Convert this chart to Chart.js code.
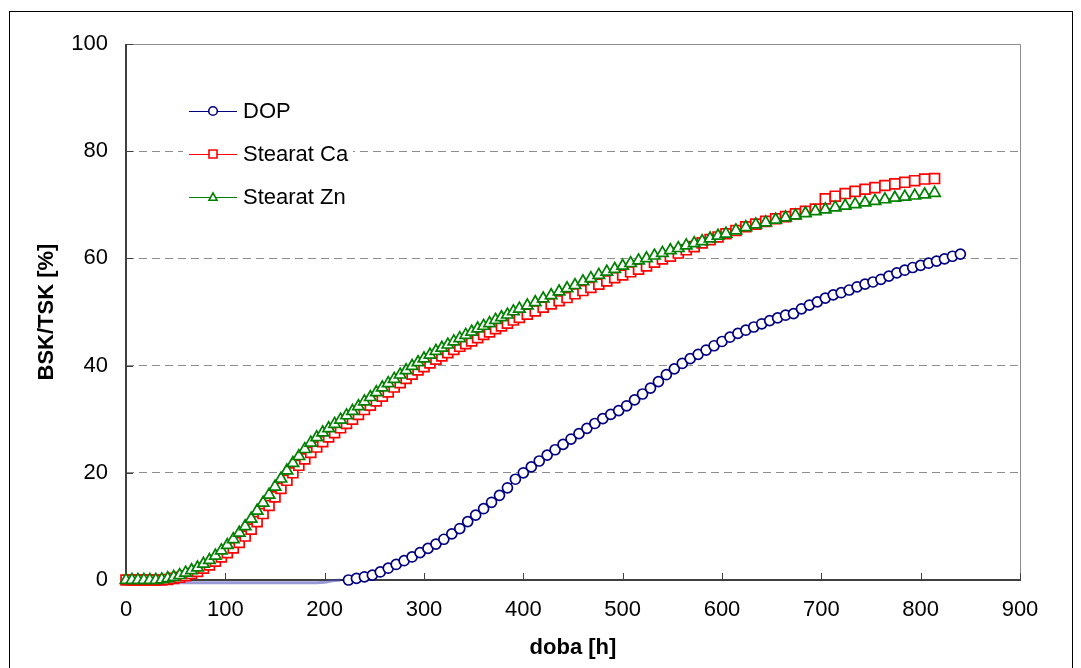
<!DOCTYPE html>
<html>
<head>
<meta charset="utf-8">
<script src="https://cdn.jsdelivr.net/npm/chart.js@4.4.0/dist/chart.umd.min.js"></script>
<style>
  html, body { margin: 0; padding: 0; background: #fff; }
  #wrap { width: 1081px; height: 668px; }
</style>
</head>
<body>
<div id="wrap"><canvas id="graph" width="1081" height="668"></canvas></div>
<script>
// series names and axis ticks
const seriesNames = ["DOP", "Stearat Ca", "Stearat Zn"];
const xTicks = [0, 100, 200, 300, 400, 500, 600, 700, 800, 900];
const yTicks = [0, 20, 40, 60, 80, 100];

// stearat samples (h) - denser early on, sparser later
const stearatTime = [0, 6, 12, 18, 24, 30, 36, 42, 48, 54,
  60, 66, 72, 78, 84, 90, 96, 102, 108, 114,
  120, 126, 132, 138, 144, 150, 156, 162, 168, 174,
  180, 186, 192, 198, 204, 210, 216, 222, 228, 234,
  240, 246, 252, 258, 264, 270, 276, 282, 288, 294,
  300, 306, 312, 318, 324, 330, 336, 342, 348, 354,
  360, 366, 372, 378, 384, 390, 396,
  404, 412, 420, 428, 436, 444, 452, 460, 468, 476,
  484, 492, 500, 508, 516, 524, 532, 540, 548, 556,
  564, 572, 580, 588, 596, 604,
  614, 624, 634, 644, 654, 664, 674, 684, 694, 704,
  714, 724, 734, 744, 754, 764, 774, 784, 794, 804,
  814];
const stearatCa = [0, 0, 0, 0, 0, 0, 0, 0.1, 0.3, 0.5,
  0.8, 1.2, 1.6, 2.2, 2.8, 3.5, 4.3, 5.1, 6.0, 7.0,
  8.2, 9.5, 10.9, 12.4, 13.9, 15.5, 17.1, 18.6, 20.0, 21.4,
  22.6, 23.8, 24.8, 25.8, 26.7, 27.5, 28.4, 29.2, 30.0, 30.9,
  31.8, 32.6, 33.4, 34.3, 35.1, 36.0, 36.8, 37.6, 38.4, 39.2,
  39.8, 40.5, 41.2, 41.8, 42.4, 43.0, 43.6, 44.1, 44.6, 45.2,
  45.8, 46.3, 46.9, 47.4, 47.9, 48.5, 49.0,
  49.6, 50.2, 50.9, 51.5, 52.1, 52.7, 53.4, 54.0, 54.6, 55.2,
  55.8, 56.4, 56.9, 57.5, 58.0, 58.6, 59.3, 59.9, 60.4, 61.0,
  61.6, 62.2, 62.9, 63.5, 64.0, 64.6,
  65.2, 65.9, 66.4, 66.9, 67.4, 67.8, 68.3, 68.8, 69.2, 71.1,
  71.6, 72.1, 72.5, 72.9, 73.2, 73.6, 73.9, 74.2, 74.5, 74.8,
  74.9];
const stearatZn = [0, 0, 0, 0, 0, 0, 0.1, 0.3, 0.55, 0.9,
  1.35, 1.8, 2.3, 3.0, 3.7, 4.5, 5.5, 6.5, 7.6, 8.8,
  10.0, 11.4, 12.9, 14.4, 15.9, 17.4, 18.9, 20.4, 21.8, 23.1,
  24.4, 25.6, 26.6, 27.5, 28.3, 29.1, 29.9, 30.7, 31.5, 32.4,
  33.3, 34.1, 35.0, 35.9, 36.7, 37.5, 38.3, 39.1, 39.9, 40.6,
  41.3, 42.0, 42.7, 43.3, 43.9, 44.5, 45.1, 45.7, 46.3, 46.9,
  47.4, 47.9, 48.5, 49.0, 49.5, 50.1, 50.6,
  51.2, 51.8, 52.5, 53.1, 53.8, 54.4, 55.0, 55.7, 56.3, 56.9,
  57.5, 58.0, 58.6, 59.1, 59.6, 60.0, 60.5, 61.0, 61.5, 61.9,
  62.4, 62.8, 63.2, 63.7, 64.2, 64.6,
  65.2, 65.8, 66.3, 66.7, 67.2, 67.6, 68.0, 68.4, 68.8, 69.1,
  69.5, 69.8, 70.1, 70.4, 70.7, 71.0, 71.3, 71.5, 71.7, 71.9,
  72.2];

// DOP samples (h)
const dopTime = [0, 8, 16, 24, 32, 40, 48, 56, 64, 72,
  80, 88, 96, 104, 112, 120, 128, 136, 144, 152,
  160, 168, 176, 184, 192, 200, 208, 216,
  224, 232, 240, 248, 256, 264, 272, 280, 288, 296,
  304, 312, 320, 328, 336, 344, 352, 360, 368, 376,
  384, 392, 400, 408, 416, 424, 432, 440, 448, 456,
  464, 472, 480, 488, 496, 504, 512, 520, 528, 536,
  544, 552, 560, 568, 576, 584, 592, 600, 608, 616,
  624, 632, 640, 648, 656, 664, 672, 680, 688, 696,
  704, 712, 720, 728, 736, 744, 752, 760, 768, 776,
  784, 792, 800, 808, 816, 824, 832, 840];
const dopValues = [-0.5, -0.5, -0.5, -0.5, -0.5, -0.5, -0.5, -0.5, -0.5, -0.5,
  -0.5, -0.5, -0.5, -0.5, -0.5, -0.5, -0.5, -0.5, -0.5, -0.5,
  -0.5, -0.5, -0.5, -0.5, -0.5, -0.4, -0.15, 0,
  0.0, 0.3, 0.6, 0.9, 1.5, 2.2, 2.9, 3.6, 4.3, 5.1,
  5.9, 6.7, 7.6, 8.6, 9.6, 10.9, 12.1, 13.3, 14.5, 15.8,
  17.2, 18.8, 20.0, 21.1, 22.2, 23.3, 24.3, 25.3, 26.3, 27.3,
  28.3, 29.2, 30.1, 30.9, 31.6, 32.5, 33.6, 34.7, 35.8, 37.0,
  38.3, 39.4, 40.4, 41.3, 42.1, 42.9, 43.7, 44.5, 45.3, 46.0,
  46.6, 47.2, 47.8, 48.4, 48.9, 49.4, 49.7, 50.6, 51.3, 51.9,
  52.6, 53.2, 53.6, 54.1, 54.7, 55.2, 55.6, 56.1, 56.7, 57.3,
  57.8, 58.3, 58.7, 59.1, 59.5, 59.9, 60.4, 60.8];

const FONT = '"Liberation Sans", Arial, sans-serif';
const colors = ["#000080", "#ff0000", "#008000"];
const styles = ["circle", "rect", "triangle"];

function pairs(xs, ys) {
  return xs.map((t, i) => ({ x: t, y: ys[i] }));
}

function drawMarker(ctx, style, x, y, r) {
  ctx.beginPath();
  if (style === "circle") {
    ctx.arc(x, y, r, 0, Math.PI * 2);
  } else if (style === "rect") {
    ctx.rect(x - r, y - r, r * 2, r * 2);
  } else {
    ctx.moveTo(x, y - r);
    ctx.lineTo(x + r, y + r * 0.8);
    ctx.lineTo(x - r, y + r * 0.8);
    ctx.closePath();
  }
  ctx.fill();
  ctx.stroke();
}

const frame = {
  id: "frame",
  beforeDraw(chart) {
    const ctx = chart.ctx;
    ctx.save();
    ctx.fillStyle = "#fff";
    ctx.fillRect(0, 0, chart.width, chart.height);
    ctx.strokeStyle = "#000";
    ctx.lineWidth = 1;
    ctx.strokeRect(9.5, 11.5, 1063, 700);
    ctx.restore();
  },
  beforeDatasetsDraw(chart) {
    const { ctx, chartArea: a, scales } = chart;
    ctx.save();
    ctx.strokeStyle = "#8c8c8c";
    ctx.lineWidth = 1;
    ctx.beginPath();
    ctx.moveTo(a.left, a.top + 0.5);
    ctx.lineTo(a.right + 0.5, a.top + 0.5);
    ctx.lineTo(a.right + 0.5, a.bottom);
    ctx.stroke();
    ctx.strokeStyle = "#404040";
    ctx.lineWidth = 2;
    ctx.beginPath();
    ctx.moveTo(a.left, a.top);
    ctx.lineTo(a.left, a.bottom);
    ctx.lineTo(a.right + 1, a.bottom);
    ctx.stroke();
    ctx.lineWidth = 1;
    scales.x.ticks.forEach(t => {
      const px = Math.round(scales.x.getPixelForValue(t.value)) + 0.5;
      ctx.beginPath();
      ctx.moveTo(px, a.bottom);
      ctx.lineTo(px, a.bottom - 7);
      ctx.stroke();
    });
    scales.y.ticks.forEach(t => {
      const py = Math.round(scales.y.getPixelForValue(t.value)) + 0.5;
      ctx.beginPath();
      ctx.moveTo(a.left, py);
      ctx.lineTo(a.left + 7, py);
      ctx.stroke();
    });
    ctx.restore();
  },
  afterDraw(chart) {
    // legend inside the plot, upper left
    const ctx = chart.ctx;
    ctx.save();
    ctx.fillStyle = "#fff";
    ctx.fillRect(183, 92, 170, 122);
    const rows = [111, 154, 197];
    seriesNames.forEach((name, i) => {
      const y = rows[i];
      ctx.strokeStyle = colors[i];
      ctx.lineWidth = 1;
      ctx.beginPath();
      ctx.moveTo(189, y + 0.5);
      ctx.lineTo(237, y + 0.5);
      ctx.stroke();
      ctx.fillStyle = "#fff";
      ctx.lineWidth = 1.6;
      drawMarker(ctx, styles[i], 213, y, i === 0 ? 4.3 : 4);
      ctx.fillStyle = "#000";
      ctx.font = "22px " + FONT;
      ctx.textBaseline = "middle";
      ctx.textAlign = "left";
      ctx.fillText(name, 243, y + 1);
    });
    ctx.restore();
  }
};

const dopPast = c => c.p1.parsed.x <= 216;

new Chart(document.getElementById("graph"), {
  type: "line",
  data: {
    datasets: [
      {
        label: seriesNames[0],
        data: pairs(dopTime, dopValues),
        borderColor: colors[0],
        borderWidth: 1,
        pointStyle: "circle",
        pointRadius: c => (c.raw && c.raw.x < 220 ? 0 : 5),
        pointBorderWidth: 1.7,
        pointBackgroundColor: "#fff",
        pointBorderColor: colors[0],
        segment: {
          borderColor: c => (dopPast(c) ? "rgba(70,70,180,0.55)" : undefined),
          borderWidth: c => (dopPast(c) ? 3 : undefined)
        },
        clip: false,
        order: 2
      },
      {
        label: seriesNames[1],
        data: pairs(stearatTime, stearatCa),
        borderColor: colors[1],
        borderWidth: 1,
        pointStyle: "rect",
        pointRadius: 7,
        pointBorderWidth: 1.7,
        pointBackgroundColor: "#fff",
        pointBorderColor: colors[1],
        clip: false,
        order: 1
      },
      {
        label: seriesNames[2],
        data: pairs(stearatTime, stearatZn),
        borderColor: colors[2],
        borderWidth: 1,
        pointStyle: "triangle",
        pointRadius: 6.6,
        pointBorderWidth: 1.7,
        pointBackgroundColor: "#fff",
        pointBorderColor: colors[2],
        clip: false,
        order: 0
      }
    ]
  },
  options: {
    responsive: false,
    animation: false,
    layout: { padding: { top: 44, right: 61, left: 0, bottom: 0 } },
    plugins: {
      legend: { display: false },
      tooltip: { enabled: false }
    },
    scales: {
      x: {
        type: "linear",
        min: 0,
        max: 900,
        afterBuildTicks: axis => { axis.ticks = xTicks.map(v => ({ value: v })); },
        afterFit: axis => { axis.height = 88; },
        grid: { display: false, drawTicks: false },
        border: { display: false },
        ticks: { padding: 17, color: "#000", font: { family: FONT, size: 22 }, maxRotation: 0 },
        title: {
          display: true,
          text: "doba [h]",
          color: "#000",
          font: { family: FONT, size: 22, weight: "bold" },
          padding: { top: 0, bottom: 7 }
        }
      },
      y: {
        min: 0,
        max: 100,
        afterBuildTicks: axis => { axis.ticks = yTicks.map(v => ({ value: v })); },
        afterFit: axis => { axis.width = 126; },
        grid: {
          drawTicks: false,
          lineWidth: 1,
          color: c => (c.tick && (c.tick.value === 0 || c.tick.value === 100) ? "rgba(0,0,0,0)" : "#8c8c8c")
        },
        border: { display: false, dash: [8, 5] },
        ticks: { padding: 18, color: "#000", font: { family: FONT, size: 22 } },
        title: {
          display: true,
          text: "BSK/TSK [%]",
          color: "#000",
          font: { family: FONT, size: 22, weight: "bold" },
          padding: { top: 34, bottom: 0 }
        }
      }
    }
  },
  plugins: [frame]
});
</script>
</body>
</html>
